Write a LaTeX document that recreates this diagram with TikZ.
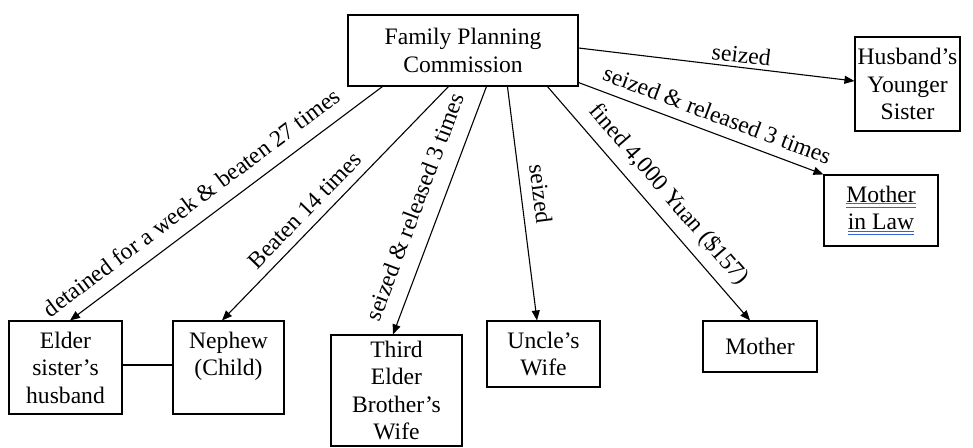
\documentclass[tikz,border=0pt]{standalone}
\usepackage{fontspec}
\setmainfont{Liberation Serif}
\usetikzlibrary{arrows.meta}
\definecolor{ulblue}{RGB}{50,100,215}
\newsavebox\ulbox
\newcommand\blueuu[1]{\sbox\ulbox{#1}\rlap{\usebox\ulbox}{\color{ulblue}\rlap{\rule[-2pt]{\wd\ulbox}{0.9pt}}\rule[-5.5pt]{\wd\ulbox}{0.9pt}}}
\begin{document}
\begin{tikzpicture}[x=1pt,y=-1pt,line width=1.1pt,
  txt/.style={font=\fontsize{23.6}{27.5}\selectfont},
  box/.style={txt,draw,line width=1.1pt,inner sep=0pt,align=center},
  arr/.style={-{Triangle[length=10pt,width=8pt]}},
  lbl/.style={txt,sloped,anchor=south,text depth=0pt,inner xsep=0pt}]
\useasboundingbox (0,0) rectangle (973,447);
\node[box,minimum width=230pt,minimum height=71pt] (fpc) at (463,50.5) {Family Planning\\Commission};
\node[box,minimum width=105pt,minimum height=94pt] (hys) at (907.5,84) {Husband’s\\Younger\\Sister};
\node[box,minimum width=114pt,minimum height=71pt] (mil) at (881,210.5) {\blueuu{Mother}\\\blueuu{in Law}};
\node[box,minimum width=113pt,minimum height=93pt] (elder) at (65.5,367.5) {Elder\\sister’s\\husband};
\node[box,minimum width=111pt,minimum height=93pt] (nephew) at (228.5,367.5) {Nephew\\(Child)\\~};
\node[box,minimum width=131pt,minimum height=111pt] (third) at (396.5,390.5) {Third\\Elder\\Brother’s\\Wife};
\node[box,minimum width=113pt,minimum height=66pt] (uncle) at (543.5,354) {Uncle’s\\Wife};
\node[box,minimum width=114pt,minimum height=51pt] (mother) at (760,346.5) {Mother};

\draw[arr] ([yshift=2.5pt]fpc.east) -- node[lbl,pos=.585,inner ysep=4pt]{seized} ([yshift=3pt]hys.west);
\draw[arr] ([yshift=4pt]fpc.south east) -- node[lbl,pos=.54,inner ysep=10pt]{seized \& released 3 times} (mil.north west);
\draw[arr] ([xshift=200pt]fpc.south west) -- node[lbl,pos=.52,inner ysep=14pt]{fined 4,000 Yuan (\$157)} ([xshift=-10pt]mother.north);
\draw[arr] ([xshift=160pt]fpc.south west) -- node[lbl,pos=.47,inner ysep=11pt]{seized} ([xshift=-6.5pt]uncle.north);
\draw[arr] ([xshift=139pt]fpc.south west) -- node[lbl,pos=.52,inner ysep=16pt]{seized \& released 3 times} ([xshift=-3.5pt]third.north);
\draw[arr] ([xshift=101pt]fpc.south west) -- node[lbl,pos=.58,inner ysep=9pt]{Beaten 14 times} ([xshift=-6.5pt]nephew.north);
\draw[arr] ([xshift=35pt]fpc.south west) -- node[lbl,pos=.57,inner ysep=13pt]{detained for a week \& beaten 27 times} ([xshift=4.5pt]elder.north);
\draw ([yshift=2.5pt]elder.east) -- ([yshift=2.5pt]nephew.west);
\end{tikzpicture}
\end{document}
